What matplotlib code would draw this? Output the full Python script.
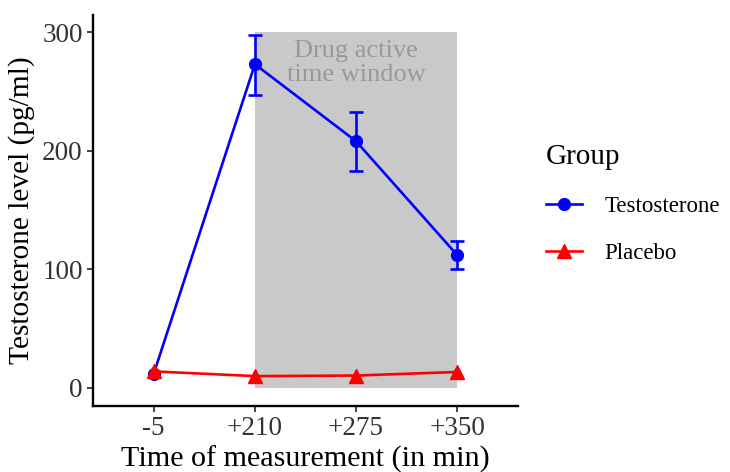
import matplotlib
matplotlib.use("Agg")
import matplotlib.pyplot as plt
from matplotlib.lines import Line2D

# data
times = ['-5', '+210', '+275', '+350']
testo_mean = [12, 273, 208, 112]
testo_lo = [12, 247, 183, 100]
testo_hi = [12, 298, 233, 124]
placebo_mean = [14, 10, 10.5, 13.5]
window_start, window_end = '+210', '+350'
window_top = 300

plt.rcParams['font.family'] = ['Liberation Serif', 'DejaVu Serif']

fig = plt.figure(figsize=(7.3, 4.72), dpi=100)
ax = fig.add_axes([0.1274, 0.1398, 0.5822, 0.8284])

x = list(range(1, len(times) + 1))
x0 = times.index(window_start) + 1
x1 = times.index(window_end) + 1
ax.add_patch(plt.Rectangle((x0, 0), x1 - x0, window_top, color='#c9c9c9', lw=0, zorder=0))
ax.text((x0 + x1) / 2, 274, 'Drug active\ntime window', ha='center', va='center',
        color='#999999', fontsize=19, linespacing=1.15)

lw = 1.9
# error bars only where there is spread
has_err = [hi > lo for lo, hi in zip(testo_lo, testo_hi)]
ex = [xi for xi, k in zip(x, has_err) if k]
ey = [m for m, k in zip(testo_mean, has_err) if k]
eerr = [[m - lo for m, lo, k in zip(testo_mean, testo_lo, has_err) if k],
        [hi - m for m, hi, k in zip(testo_mean, testo_hi, has_err) if k]]
ax.errorbar(ex, ey, yerr=eerr, fmt='none', ecolor='blue', elinewidth=lw,
            capsize=5, capthick=lw, zorder=3)
ax.plot(x, testo_mean, color='blue', lw=lw, marker='o', ms=8.5, zorder=3)
ax.plot(x, placebo_mean, color='red', lw=lw, marker='^', ms=9.5, zorder=4)

ax.set_xlim(0.4, 4.6)
ax.set_ylim(-15.2, 314.5)
ax.set_xticks(x)
ax.set_xticklabels(times)
ax.set_yticks([0, 100, 200, 300])
ax.tick_params(labelsize=19.5, colors='#222222', length=4.3, width=1.2,
               labelcolor='#333333', pad=3)
for side in ['top', 'right']:
    ax.spines[side].set_visible(False)
for side in ['left', 'bottom']:
    ax.spines[side].set_linewidth(1.7)
ax.set_xlabel('Time of measurement (in min)', fontsize=21.7, labelpad=3)
ax.set_ylabel('Testosterone level (pg/ml)', fontsize=21.2, labelpad=5)

handles = [Line2D([], [], color='blue', lw=lw, marker='o', ms=8.5),
           Line2D([], [], color='red', lw=lw, marker='^', ms=9.5)]
leg = fig.legend(handles, ['Testosterone', 'Placebo'], title='Group',
                 loc='upper left', bbox_to_anchor=(0.735, 0.715), frameon=False,
                 fontsize=16.5, title_fontsize=21, handlelength=1.6,
                 handletextpad=0.95, labelspacing=1.15, borderaxespad=0)
leg._legend_box.align = 'left'

fig.savefig('out.png', dpi=100)
